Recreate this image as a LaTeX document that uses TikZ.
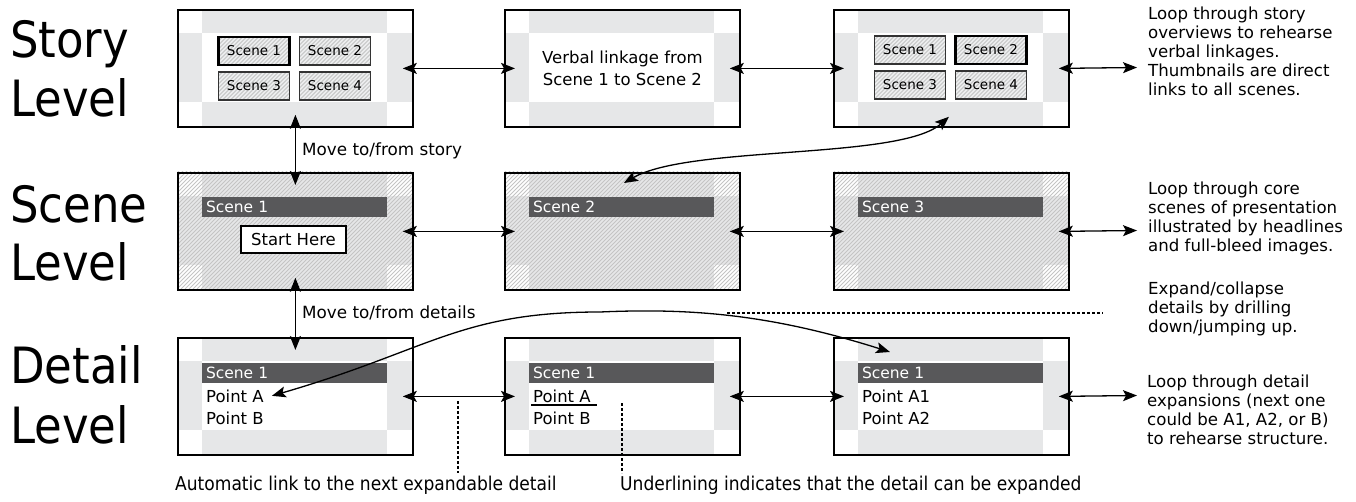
\documentclass[tikz,border=0pt]{standalone}
\usepackage{fontspec}
\setmainfont{DejaVu Sans}
\newfontfamily\headfont{DejaVu Sans Condensed}
\usetikzlibrary{arrows.meta}

\definecolor{band}{HTML}{E6E7E8}
\definecolor{barc}{HTML}{58585A}
\definecolor{hatchc}{HTML}{C4C4C4}

\newcommand\plainbands[2]{%
  \fill[band] (#1+25,#2) rectangle (#1+210,#2+24);
  \fill[band] (#1+25,#2+93) rectangle (#1+210,#2+117);
  \fill[band] (#1,#2+24) rectangle (#1+25,#2+93);
  \fill[band] (#1+210,#2+24) rectangle (#1+235,#2+93);}
\newcommand\hatchbands[2]{%
  \fill[band] (#1+25,#2) rectangle (#1+210,#2+117);
  \fill[band] (#1,#2+24) rectangle (#1+235,#2+93);
  \path[hatchpp] (#1,#2) rectangle (#1+235,#2+117);}

\tikzset{
  hatchpp/.style={path picture={%
    \foreach \i in {-140,-136,...,240}
      \draw[hatchc, line width=0.9pt] ([xshift=\i pt]path picture bounding box.south west) -- ++(140pt,140pt);}},
  panel/.style={draw=black, line width=1.8pt, minimum width=235pt, minimum height=117pt, inner sep=0pt, anchor=north west},
  thumb/.style={draw=black!80, line width=1.2pt, minimum width=71pt, minimum height=28pt, inner sep=0pt,
    fill=band!70, hatchpp, font=\fontsize{13.5}{15}\selectfont},
  sel/.style={line width=2.6pt, draw=black},
  barbox/.style={fill=barc, minimum width=185pt, minimum height=20pt, inner sep=0pt, text width=177pt,
    align=left, text=white, text depth=0pt, font=\fontsize{15.5}{18}\selectfont},
  startbox/.style={draw=black, fill=white, line width=1.3pt, minimum width=105pt, minimum height=27pt,
    inner sep=0pt, font=\fontsize{16.5}{19}\selectfont},
  ptext/.style={anchor=base west, inner sep=0pt, font=\fontsize{16.5}{19}\selectfont},
  lab/.style={anchor=base west, inner sep=0pt, font=\fontsize{16.8}{19}\selectfont},
  rtext/.style={anchor=north west, inner sep=0pt, align=left, font=\fontsize{16.6}{19}\selectfont},
  btext/.style={anchor=base west, inner sep=0pt, font=\headfont\fontsize{19}{22}\selectfont},
  head/.style={anchor=base west, inner sep=0pt, font=\headfont\fontsize{50}{59}\selectfont},
  link/.style={line width=1.3pt, {Stealth[length=14pt,width=11pt,inset=3pt]}-{Stealth[length=14pt,width=11pt,inset=3pt]}},
  dotline/.style={line width=1.2pt, dash pattern=on 2.5pt off 2.5pt}
}

\begin{document}
\begin{tikzpicture}[x=1pt,y=-1pt]
\useasboundingbox (0,0) rectangle (1356,502);

% headings
\node[head] (h1) at (10,58) {Story};
\node[head] (h2) at (10,117) {Level};
\node[head] (h3) at (10,223) {Scene};
\node[head] (h4) at (10,281) {Level};
\node[head] (h5) at (10,383) {Detail};
\node[head] (h6) at (10,443) {Level};

% ---------- story level ----------
\plainbands{177}{9}
\plainbands{504}{9}
\plainbands{833}{9}
\node[panel] (st1) at (177,9) {};
\node[panel] (st2) at (504,9) {};
\node[panel] (st3) at (833,9) {};
\node[thumb,sel] (a1) at (254,51) {Scene 1};
\node[thumb] (a2) at (335,51) {Scene 2};
\node[thumb] (a3) at (254,86) {Scene 3};
\node[thumb] (a4) at (335,86) {Scene 4};
\node[thumb] (c1) at (910,50) {Scene 1};
\node[thumb,sel] (c2) at (991,50) {Scene 2};
\node[thumb] (c3) at (910,85) {Scene 3};
\node[thumb] (c4) at (991,85) {Scene 4};
\node[align=center, inner sep=0pt, font=\fontsize{16.5}{22}\selectfont] (verbal) at (st2.center) {Verbal linkage from\\Scene 1 to Scene 2};

% ---------- scene level ----------
\hatchbands{177}{172}
\hatchbands{504}{172}
\hatchbands{833}{172}
\node[barbox] (sb1) at (294.5,207) {Scene 1};
\node[barbox] (sb2) at (621.5,207) {Scene 2};
\node[barbox] (sb3) at (950.5,207) {Scene 3};
\node[startbox] (start) at (293.5,239.5) {Start Here};
\node[panel] (sc1) at (177,172) {};
\node[panel] (sc2) at (504,172) {};
\node[panel] (sc3) at (833,172) {};

% ---------- detail level ----------
\plainbands{177}{337}
\plainbands{504}{337}
\plainbands{833}{337}
\node[barbox] (db1) at (294.5,372.5) {Scene 1};
\node[barbox] (db2) at (621.5,372.5) {Scene 1};
\node[barbox] (db3) at (950.5,372.5) {Scene 1};
\node[ptext] (pA1) at (206,402) {Point A};
\node[ptext] (pB1) at (206,424) {Point B};
\node[ptext] (pA2) at (533,402) {Point A};
\node[ptext] (pB2) at (533,424) {Point B};
\node[ptext] (pA3) at (862,402) {Point A1};
\node[ptext] (pB3) at (862,424) {Point A2};
\draw[line width=1.2pt] ([xshift=-2pt,yshift=-3pt]pA2.base west) -- ([xshift=6pt,yshift=-3pt]pA2.base east);
\node[panel] (dt1) at (177,337) {};
\node[panel] (dt2) at (504,337) {};
\node[panel] (dt3) at (833,337) {};

% ---------- horizontal links ----------
\draw[link] ([xshift=-11pt]st1.east) -- ([xshift=11pt]st2.west);
\draw[link] ([xshift=-11pt]st2.east) -- ([xshift=11pt]st3.west);
\draw[link] ([xshift=-11pt]sc1.east) -- ([xshift=11pt]sc2.west);
\draw[link] ([xshift=-11pt]sc2.east) -- ([xshift=11pt]sc3.west);
\draw[link] ([xshift=-11pt]dt1.east) -- ([xshift=11pt]dt2.west);
\draw[link] ([xshift=-11pt]dt2.east) -- ([xshift=11pt]dt3.west);
\coordinate (r1) at (1137,67.5);
\coordinate (r2) at (1137,230.5);
\coordinate (r3) at (1137,395.5);
\draw[link] ([xshift=-11pt]st3.east) -- (r1);
\draw[link] ([xshift=-11pt]sc3.east) -- (r2);
\draw[link] ([xshift=-11pt]dt3.east) -- (r3);

% ---------- vertical links ----------
\draw[link] ([yshift=13pt]st1.south) -- ([yshift=-13pt]sc1.north);
\draw[link] ([yshift=13pt]sc1.south) -- ([yshift=-13pt]dt1.north);
\node[lab] (mv1) at (302,156) {Move to/from story};
\node[lab] (mv2) at (302,319) {Move to/from details};

% ---------- curved links ----------
\draw[link] ([shift={(1.5,11)}]sc2.north) .. controls (690,145) and (900,160) .. ([shift={(-2.5,-11)}]st3.south);
\coordinate (dmid) at (600,312);
\coordinate (dtip) at (890,352);
\draw[link] ([xshift=8pt]pA1.east) .. controls (430,350) and (460,312) .. (dmid) .. controls (690,308) and (770,314) .. (dtip);

% ---------- dotted leaders ----------
\coordinate (dA) at (727,313);
\coordinate (dB) at (1103,313);
\draw[dotline] (dA) -- (dB);
\coordinate (v1a) at (458,401);
\coordinate (v1b) at (458,473);
\draw[dotline] (v1a) -- (v1b);
\coordinate (v2a) at (622,403);
\coordinate (v2b) at (622,473);
\draw[dotline] (v2a) -- (v2b);

% ---------- right-hand notes ----------
\node[rtext] (n1) at (1148,7) {Loop through story\\overviews to rehearse\\verbal linkages.\\Thumbnails are direct\\links to all scenes.};
\node[rtext] (n2) at (1148,181.5) {Loop through core\\scenes of presentation\\illustrated by headlines\\and full-bleed images.};
\node[rtext] (n3) at (1148,281.5) {Expand/collapse\\details by drilling\\down/jumping up.};
\node[rtext] (n4) at (1147,374.5) {Loop through detail\\expansions (next one\\could be A1, A2, or B)\\to rehearse structure.};

% ---------- bottom notes ----------
\node[btext] (b1) at (175,490) {Automatic link to the next expandable detail};
\node[btext] (b2) at (620,490) {Underlining indicates that the detail can be expanded};
\end{tikzpicture}
\end{document}
